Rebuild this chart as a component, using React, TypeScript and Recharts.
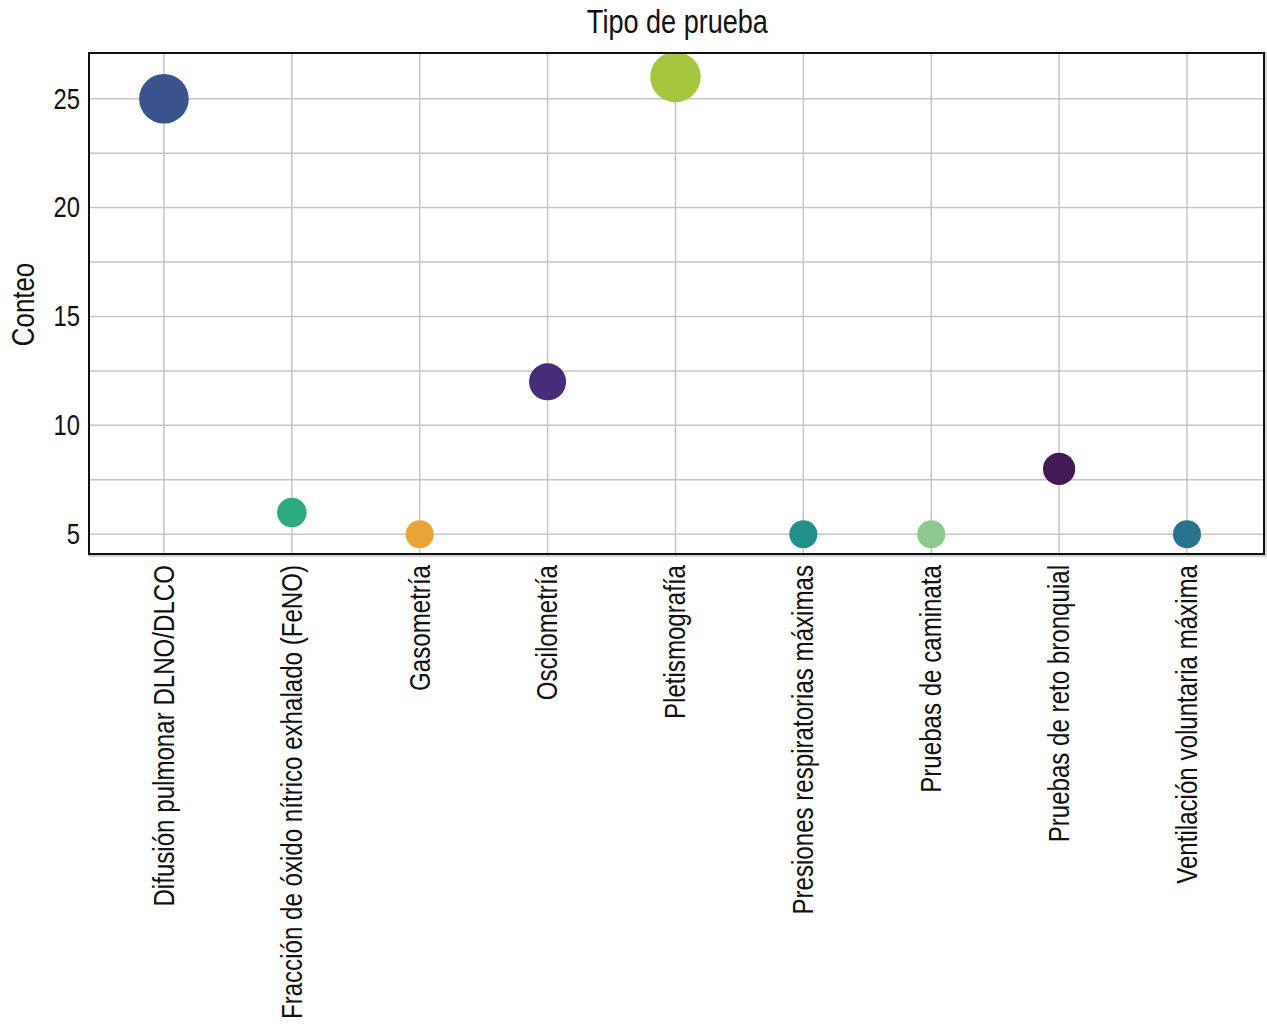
import { ScatterChart, Scatter, XAxis, YAxis, ZAxis, CartesianGrid, Cell } from "recharts";

const CATEGORIES = [
  "Difusión pulmonar DLNO/DLCO",
  "Fracción de óxido nítrico exhalado (FeNO)",
  "Gasometría",
  "Oscilometría",
  "Pletismografía",
  "Presiones respiratorias máximas",
  "Pruebas de caminata",
  "Pruebas de reto bronquial",
  "Ventilación voluntaria máxima",
];
const COUNTS = [25, 6, 5, 12, 26, 5, 5, 8, 5];
const COLORS = [
  "#3b538c",
  "#2daa7f",
  "#e8a535",
  "#472c7a",
  "#a5c73f",
  "#22918c",
  "#8dc98d",
  "#421b56",
  "#2b728e",
];
const Y_TICKS = [5, 7.5, 10, 12.5, 15, 17.5, 20, 22.5, 25];

// no narrow font installed, so Liberation Sans squeezed horizontally
const FONT = "'Liberation Sans', Arimo, Arial, sans-serif";
const SQUEEZE = 0.82;

const W = 1267;
const H = 1024;
const LEFT = 89;
const TOP = 53;
const RIGHT = 1;
const BOTTOM = 468;

const data = CATEGORIES.map((name, i) => ({ idx: i + 1, name, count: COUNTS[i] }));

function XTick(props: any) {
  const { x, y, payload } = props;
  const label = CATEGORIES[payload.value - 1] ?? "";
  const ty = y + 1;
  return (
    <text
      x={0}
      y={0}
      transform={`translate(${x}, ${ty}) rotate(-90) scale(${SQUEEZE}, 1)`}
      textAnchor="end"
      dominantBaseline="central"
      fontSize={29.4}
      fontFamily={FONT}
      fill="#111"
    >
      {label}
    </text>
  );
}

function YTick(props: any) {
  const { y, payload } = props;
  if (!Number.isInteger(payload.value)) return null;
  return (
    <text
      x={0}
      y={0}
      transform={`translate(${LEFT - 9}, ${y}) scale(${SQUEEZE}, 1)`}
      textAnchor="end"
      dominantBaseline="central"
      fontSize={29}
      fontFamily={FONT}
      fill="#111"
    >
      {payload.value}
    </text>
  );
}

export default function App() {
  return (
    <div style={{ position: "absolute", left: 0, top: 0, width: W, height: H, background: "#fff" }}>
      <div
        style={{
          position: "absolute",
          left: LEFT,
          width: W - LEFT - RIGHT,
          top: 2,
          textAlign: "center",
          fontFamily: FONT,
          fontSize: 33,
          lineHeight: "40px",
          color: "#111",
        }}
      >
        <span style={{ display: "inline-block", transform: `scaleX(${SQUEEZE})` }}>Tipo de prueba</span>
      </div>
      <ScatterChart width={W} height={H} margin={{ top: TOP, right: RIGHT, left: 0, bottom: 0 }}>
        <CartesianGrid stroke="#c6c6c6" strokeWidth={1.5} />
        <XAxis
          type="number"
          dataKey="idx"
          domain={[0.414, 9.618]}
          ticks={[1, 2, 3, 4, 5, 6, 7, 8, 9]}
          interval={0}
          height={BOTTOM}
          tickLine={false}
          axisLine={false}
          allowDataOverflow
          tick={<XTick />}
        />
        <YAxis
          type="number"
          dataKey="count"
          domain={[4.0, 27.1]}
          ticks={Y_TICKS}
          interval={0}
          width={LEFT}
          tickLine={false}
          axisLine={false}
          allowDataOverflow
          tick={<YTick />}
          label={{
            content: (p: any) => {
              const vb = p.viewBox;
              const cx = 23;
              const cy = vb.y + vb.height / 2;
              return (
                <text
                  x={0}
                  y={0}
                  transform={`translate(${cx}, ${cy}) rotate(-90) scale(${SQUEEZE}, 1)`}
                  textAnchor="middle"
                  dominantBaseline="central"
                  fontSize={31.5}
                  fontFamily={FONT}
                  fill="#111"
                >
                  Conteo
                </text>
              );
            },
          }}
        />
        <ZAxis type="number" dataKey="count" range={[290, 2000]} />
        <Scatter data={data} isAnimationActive={false}>
          {data.map((d, i) => (
            <Cell key={d.name} fill={COLORS[i]} />
          ))}
        </Scatter>
      </ScatterChart>
      <div
        style={{
          position: "absolute",
          left: LEFT - 1,
          top: TOP - 1,
          width: W - LEFT - RIGHT,
          height: H - TOP - BOTTOM,
          border: "2px solid #111",
          boxSizing: "border-box",
          pointerEvents: "none",
        }}
      />
    </div>
  );
}
